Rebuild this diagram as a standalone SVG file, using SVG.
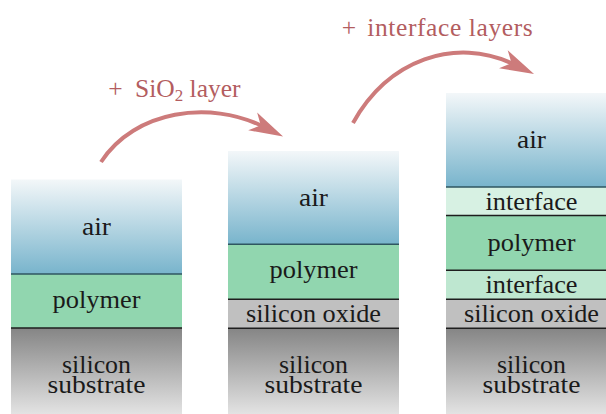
<svg xmlns="http://www.w3.org/2000/svg" width="606" height="414" viewBox="0 0 606 414">
  <style>
    .lbl { font-family: 'Liberation Serif', serif; font-size: 24.5px; fill: #1a1a1a; text-anchor: middle; }
    .note { font-family: 'Liberation Serif', serif; font-size: 25.5px; fill: #b35d5f; }
    .edge { stroke: #1e1e1e; stroke-width: 1.4; }
    .edge-air { stroke: #2f5660; stroke-width: 1.4; }
    .arrow { fill: none; stroke: #cd7b7b; stroke-width: 4; stroke-linecap: butt; marker-end: url(#stealth); }
    .air { fill: url(#airGrad); }
    .si { fill: url(#siGrad); }
    .polymer { fill: #91d6af; }
    .oxide { fill: #c0c0c0; }
    .iface-top { fill: #d7f1e3; }
    .iface-low { fill: #bee7d0; }
  </style>
  <defs>
    <linearGradient id="airGrad" x1="0" y1="0" x2="0" y2="1">
      <stop offset="0" stop-color="#f3f7f9"/>
      <stop offset="1" stop-color="#78b4cc"/>
    </linearGradient>
    <linearGradient id="siGrad" x1="0" y1="0" x2="0" y2="1">
      <stop offset="0" stop-color="#858585"/>
      <stop offset="1" stop-color="#e3e3e3"/>
    </linearGradient>
    <marker id="stealth" markerUnits="userSpaceOnUse" orient="auto" markerWidth="40" markerHeight="24" refX="12" refY="0" viewBox="0 -12 40 24" overflow="visible">
      <path d="M0,-10 L34,0 L0,10 L9,0 Z" fill="#cd7b7b"/>
    </marker>
  </defs>

  <rect width="606" height="414" fill="#ffffff"/>

  <!-- Stack 1: polymer on silicon -->
  <g id="stack-bare">
    <rect class="air" x="11" y="179.5" width="171" height="94.5"/>
    <rect class="polymer" x="11" y="274" width="171" height="54"/>
    <rect class="si" x="11" y="328" width="171" height="86"/>
    <line class="edge-air" x1="11" y1="274" x2="182" y2="274"/>
    <line class="edge" x1="11" y1="328" x2="182" y2="328"/>
    <text class="lbl" x="96.5" y="235.3" textLength="29" lengthAdjust="spacingAndGlyphs">air</text>
    <text class="lbl" x="96.5" y="308.3" textLength="88" lengthAdjust="spacingAndGlyphs">polymer</text>
    <text class="lbl" x="96.5" y="372.8" textLength="69" lengthAdjust="spacingAndGlyphs">silicon</text>
    <text class="lbl" x="96.5" y="392.7" textLength="98" lengthAdjust="spacingAndGlyphs">substrate</text>
  </g>

  <!-- Stack 2: polymer on silicon oxide -->
  <g id="stack-oxide">
    <rect class="air" x="228" y="151" width="171" height="93.3"/>
    <rect class="polymer" x="228" y="244.3" width="171" height="55"/>
    <rect class="oxide" x="228" y="299.3" width="171" height="29"/>
    <rect class="si" x="228" y="328.3" width="171" height="85.7"/>
    <line class="edge-air" x1="228" y1="244.3" x2="399" y2="244.3"/>
    <line class="edge" x1="228" y1="299.3" x2="399" y2="299.3"/>
    <line class="edge" x1="228" y1="328.3" x2="399" y2="328.3"/>
    <text class="lbl" x="313.5" y="205.7" textLength="29" lengthAdjust="spacingAndGlyphs">air</text>
    <text class="lbl" x="313.5" y="278.3" textLength="88" lengthAdjust="spacingAndGlyphs">polymer</text>
    <text class="lbl" x="313.5" y="321.7" textLength="135" lengthAdjust="spacingAndGlyphs">silicon oxide</text>
    <text class="lbl" x="313.5" y="372.8" textLength="69" lengthAdjust="spacingAndGlyphs">silicon</text>
    <text class="lbl" x="313.5" y="392.7" textLength="98" lengthAdjust="spacingAndGlyphs">substrate</text>
  </g>

  <!-- Stack 3: polymer between two interface layers -->
  <g id="stack-interface">
    <rect class="air" x="446" y="93" width="171" height="94"/>
    <rect class="iface-top" x="446" y="187" width="171" height="28.5"/>
    <rect class="polymer" x="446" y="215.5" width="171" height="54.8"/>
    <rect class="iface-low" x="446" y="270.3" width="171" height="29"/>
    <rect class="oxide" x="446" y="299.3" width="171" height="29"/>
    <rect class="si" x="446" y="328.3" width="171" height="85.7"/>
    <line class="edge-air" x1="446" y1="187" x2="617" y2="187"/>
    <line class="edge" x1="446" y1="215.5" x2="617" y2="215.5"/>
    <line class="edge" x1="446" y1="270.3" x2="617" y2="270.3"/>
    <line class="edge" x1="446" y1="299.3" x2="617" y2="299.3"/>
    <line class="edge" x1="446" y1="328.3" x2="617" y2="328.3"/>
    <text class="lbl" x="531.5" y="148.3" textLength="29" lengthAdjust="spacingAndGlyphs">air</text>
    <text class="lbl" x="531.5" y="209.5" textLength="92" lengthAdjust="spacingAndGlyphs">interface</text>
    <text class="lbl" x="531.5" y="251" textLength="88" lengthAdjust="spacingAndGlyphs">polymer</text>
    <text class="lbl" x="531.5" y="292.5" textLength="92" lengthAdjust="spacingAndGlyphs">interface</text>
    <text class="lbl" x="531.5" y="321.7" textLength="135" lengthAdjust="spacingAndGlyphs">silicon oxide</text>
    <text class="lbl" x="531.5" y="372.8" textLength="69" lengthAdjust="spacingAndGlyphs">silicon</text>
    <text class="lbl" x="531.5" y="392.7" textLength="98" lengthAdjust="spacingAndGlyphs">substrate</text>
  </g>

  <!-- Process steps between the stacks -->
  <g id="connectors">
    <path class="arrow" d="M101,162 C135,110 210,100 263.4,126.7"/>
    <path class="arrow" d="M353,123 C388,60 455,36 514.2,64.4"/>
    <text class="note" x="108.3" y="96.7">+<tspan x="135">SiO</tspan><tspan font-size="17" dy="4">2</tspan><tspan dy="-4"> layer</tspan></text>
    <text class="note" x="341.7" y="36">+<tspan x="367.3" letter-spacing="0.6">interface layers</tspan></text>
  </g>
</svg>
